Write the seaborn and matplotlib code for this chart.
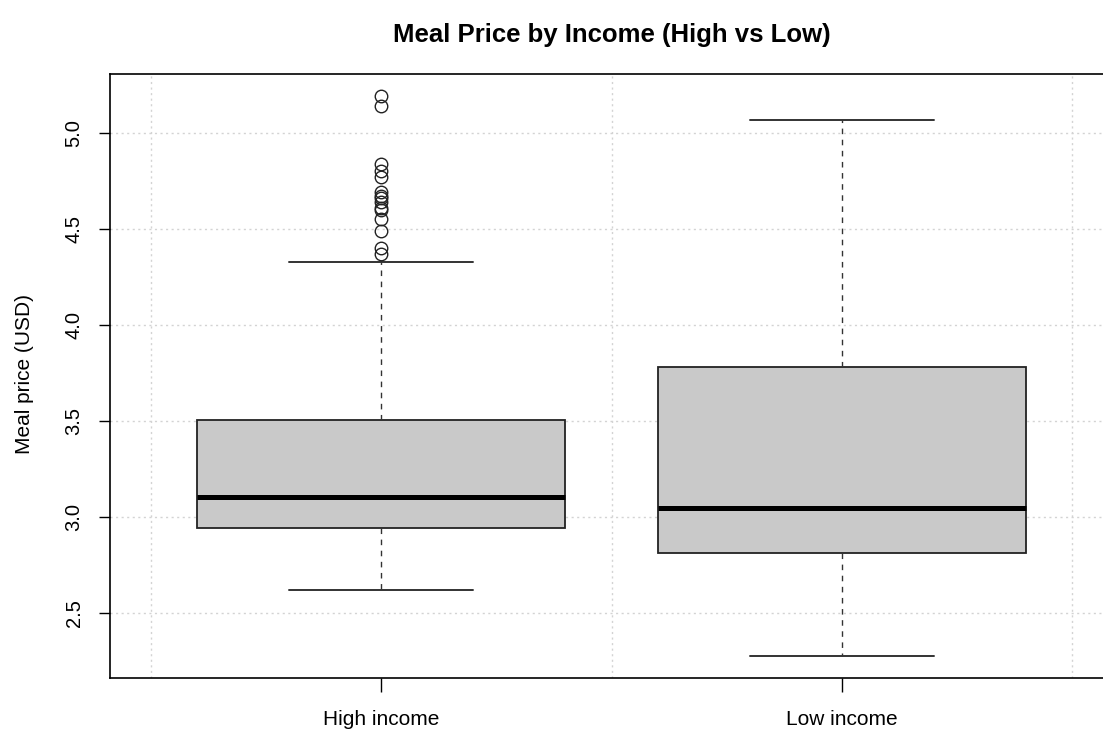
import matplotlib
matplotlib.use("Agg")
import matplotlib.pyplot as plt
import seaborn as sns

# Summary statistics of meal prices (USD) per income group
groups = ["High income", "Low income"]
q1 = [2.943, 2.812]
medians = [3.104, 3.047]
q3 = [3.505, 3.781]
whisker_low = [2.620, 2.276]
whisker_high = [4.328, 5.068]
outliers_high = [5.19, 5.14, 4.84, 4.80, 4.77, 4.69, 4.67, 4.66, 4.64,
                 4.61, 4.60, 4.55, 4.49, 4.40, 4.37]
outliers_low = []

y_ticks = [2.5, 3.0, 3.5, 4.0, 4.5, 5.0]

sns.set_style("white")
plt.rcParams["font.family"] = ["Liberation Sans", "DejaVu Sans"]
plt.rcParams["text.color"] = "black"

fig = plt.figure(figsize=(11.03, 7.30), dpi=100)
ax = fig.add_axes([110 / 1103, 1 - 678 / 730, 1003 / 1103, 604 / 730])

stats = []
for i, g in enumerate(groups):
    stats.append(dict(
        label=g,
        q1=q1[i], med=medians[i], q3=q3[i],
        whislo=whisker_low[i], whishi=whisker_high[i],
        fliers=[outliers_high, outliers_low][i],
    ))

ax.bxp(
    stats,
    positions=[1, 2],
    widths=0.8,
    capwidths=0.4,
    patch_artist=True,
    boxprops=dict(facecolor="#c9c9c9", edgecolor="#222222", linewidth=1.3),
    medianprops=dict(color="black", linewidth=3.6, solid_capstyle="butt"),
    whiskerprops=dict(color="#333333", linewidth=1.0, linestyle=(0, (4, 4))),
    capprops=dict(color="#333333", linewidth=1.4),
    flierprops=dict(marker="o", markerfacecolor="none", markeredgecolor="#222222",
                    markersize=9, markeredgewidth=1.0),
    zorder=3,
)

ax.set_xlim(0.412, 2.588)
ax.set_ylim(2.161, 5.307)

ax.set_yticks(y_ticks)
ax.set_yticklabels([f"{v:.1f}" for v in y_ticks], rotation=90, va="center")
ax.set_xticks([1, 2])
ax.set_xticklabels(groups)
ax.set_xticks([0.5, 1.5, 2.5], minor=True)

ax.grid(True, which="major", axis="y", color="#d3d3d3", linestyle=(0, (1.5, 2.5)),
        linewidth=1.0, zorder=0)
ax.grid(True, which="minor", axis="x", color="#d3d3d3", linestyle=(0, (1.5, 2.5)),
        linewidth=1.0, zorder=0)
ax.set_axisbelow(True)

ax.tick_params(axis="y", which="major", direction="out", length=8, width=1.0,
               pad=11, labelsize=14.5, colors="black", left=True)
ax.tick_params(axis="x", which="major", direction="out", length=10, width=1.0,
               pad=13, labelsize=15, colors="black", bottom=True)
ax.tick_params(axis="x", which="minor", length=0)

for side in ["left", "bottom", "top", "right"]:
    ax.spines[side].set_color("black")
    ax.spines[side].set_linewidth(1.2)

fig.text(25 / 1103, 1 - 374 / 730, "Meal price (USD)", rotation=90,
         ha="center", va="center", fontsize=15, color="black")
fig.text(611.5 / 1103, 1 - 35 / 730, "Meal Price by Income (High vs Low)",
         ha="center", va="center", fontsize=18.5, fontweight="bold", color="black")

fig.savefig("out.png", dpi=100)
